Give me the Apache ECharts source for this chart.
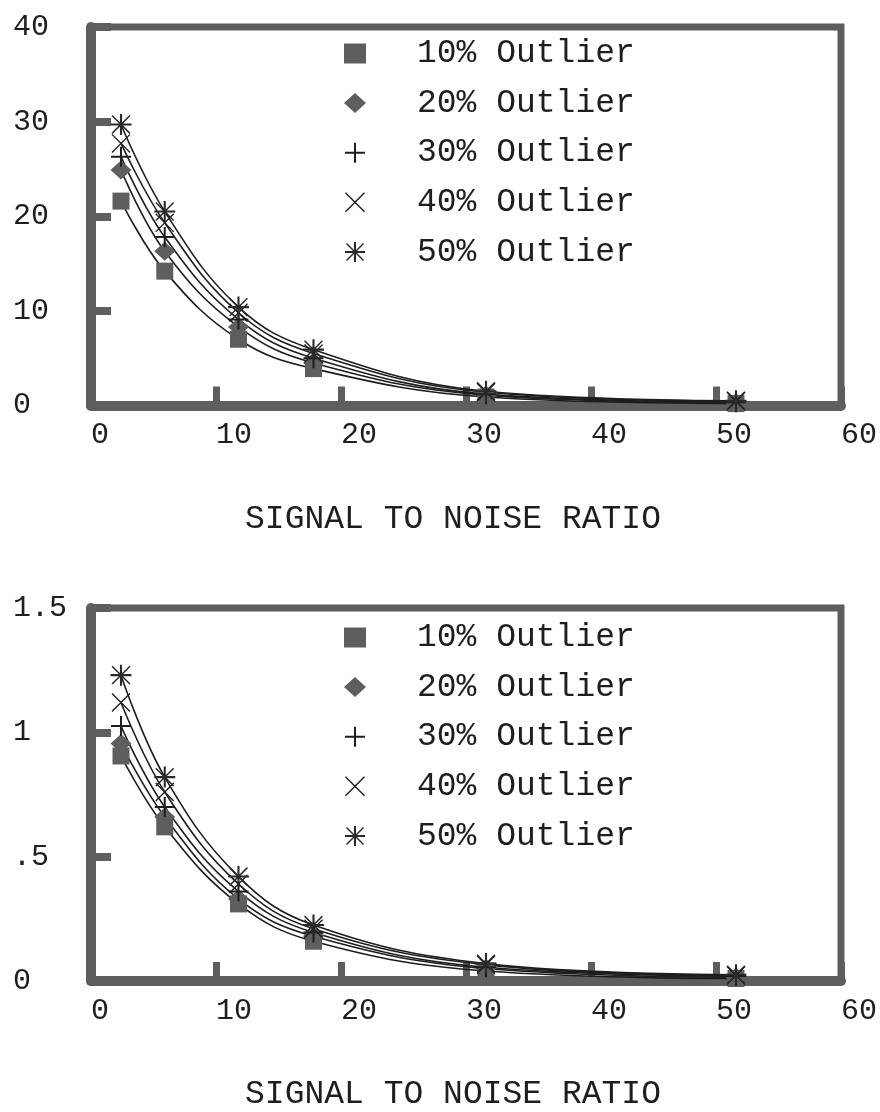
<!DOCTYPE html>
<html>
<head>
<meta charset="utf-8">
<script src="https://cdn.jsdelivr.net/npm/echarts@6/dist/echarts.min.js"></script>
<style>
  html, body { margin: 0; padding: 0; background: #fff; }
  #chart { width: 880px; height: 1112px; }
</style>
</head>
<body>
<div id="chart"></div>
<script>
// ---- data ----
const snr = [2.4, 5.9, 11.8, 17.8, 31.6, 51.6];
const seriesNames = ['10% Outlier', '20% Outlier', '30% Outlier', '40% Outlier', '50% Outlier'];

const top10 = [21.6, 14.2, 7.0, 3.9, 0.9, 0.2];
const top20 = [24.9, 16.3, 8.3, 4.5, 1.1, 0.3];
const top30 = [26.3, 17.8, 9.1, 5.0, 1.2, 0.35];
const top40 = [27.7, 19.3, 9.8, 5.5, 1.4, 0.45];
const top50 = [29.7, 20.5, 10.4, 5.9, 1.5, 0.5];

const bot10 = [0.905, 0.62, 0.31, 0.16, 0.04, 0.01];
const bot20 = [0.955, 0.66, 0.33, 0.18, 0.05, 0.015];
const bot30 = [1.025, 0.70, 0.36, 0.195, 0.055, 0.02];
const bot40 = [1.12, 0.76, 0.39, 0.21, 0.065, 0.022];
const bot50 = [1.23, 0.82, 0.42, 0.225, 0.07, 0.025];

const xTickValues = [0, 10, 20, 30, 40, 50, 60];
const xTickLabels = ['0', '10', '20', '30', '40', '50', '60'];
const yTopTickValues = [0, 10, 20, 30, 40];
const yTopTickLabels = ['0', '10', '20', '30', '40'];
const yBotTickValues = [0, 0.5, 1, 1.5];
const yBotTickLabels = ['0', '.5', '1', '1.5'];
const xAxisTitle = 'SIGNAL TO NOISE RATIO';

// ---- styles ----
const GRAY = '#5e5e5e';
const INK = '#1e1e1e';
const FONT = '"Liberation Mono", "DejaVu Sans Mono", monospace';

const PLUS = 'path://M9,0 H11 V20 H9 Z M0,9 H20 V11 H0 Z';
const CROSS = 'path://M0,1 L1,0 L20,19 L19,20 Z M19,0 L20,1 L1,20 L0,19 Z';
const STAR = 'path://M9,0 H11 V20 H9 Z M0,9 H20 V11 H0 Z M1,2 L2,1 L19,18 L18,19 Z M18,1 L19,2 L2,19 L1,18 Z';

const symbols = ['rect', 'diamond', PLUS, CROSS, STAR];
const symbolSizes = [17, [21, 19], 20, 19, 21];
const symbolColors = [GRAY, GRAY, INK, INK, '#2a2a2a'];

function labelFor(values, labels) {
  return function (v) {
    for (let i = 0; i < values.length; i++) {
      if (Math.abs(values[i] - v) < 1e-9) return labels[i];
    }
    return '';
  };
}

function makeSeries(gridIdx, arrays) {
  return arrays.map((arr, k) => ({
    name: seriesNames[k],
    type: 'line',
    xAxisIndex: gridIdx,
    yAxisIndex: gridIdx,
    data: snr.map((x, i) => [x, arr[i]]),
    smooth: 0.4,
    symbol: symbols[k],
    symbolSize: symbolSizes[k],
    showAllSymbol: true,
    itemStyle: { color: symbolColors[k] },
    lineStyle: { color: INK, width: 1.6 },
    emphasis: { disabled: true },
    z: 3
  }));
}

function makeXAxis(gridIdx) {
  return {
    gridIndex: gridIdx,
    type: 'value',
    min: 0, max: 60, interval: 10,
    axisLine: { show: true, onZero: false, lineStyle: { color: GRAY, width: 10 } },
    axisTick: { show: true, inside: true, length: 19, lineStyle: { color: GRAY, width: 7 } },
    splitLine: { show: false },
    axisLabel: {
      show: true, margin: 15, align: 'left',
      fontFamily: FONT, fontSize: 30, color: INK,
      formatter: labelFor(xTickValues, xTickLabels)
    },
    name: xAxisTitle,
    nameLocation: 'middle',
    nameGap: 97,
    nameTextStyle: { fontFamily: FONT, fontSize: 33, color: INK, padding: [0, 26, 0, 0] }
  };
}

function makeYAxis(gridIdx, max, interval, values, labels) {
  return {
    gridIndex: gridIdx,
    type: 'value',
    min: 0, max: max, interval: interval,
    axisLine: { show: true, onZero: false, lineStyle: { color: GRAY, width: 10 } },
    axisTick: { show: true, inside: true, length: 20, lineStyle: { color: GRAY, width: 8 } },
    splitLine: { show: false },
    axisLabel: {
      show: true, margin: 78, align: 'left',
      fontFamily: FONT, fontSize: 30, color: INK,
      padding: [0, 0, 8, 0],
      formatter: labelFor(values, labels)
    }
  };
}

function makeLegend(top) {
  return {
    orient: 'vertical',
    left: 339,
    top: top,
    itemWidth: 22,
    itemHeight: 20,
    itemGap: 16.6,
    selectedMode: false,
    textStyle: { fontFamily: FONT, fontSize: 33, lineHeight: 33, color: INK, padding: [0, 0, 0, 46] },
    data: seriesNames.map((n, k) => ({ name: n, icon: symbols[k] }))
  };
}

const chart = echarts.init(document.getElementById('chart'), null, { renderer: 'canvas' });
chart.setOption({
  animation: false,
  backgroundColor: '#ffffff',
  grid: [
    { left: 91, right: 36, top: 27, height: 378.5, show: true, borderColor: GRAY, borderWidth: 7, backgroundColor: 'transparent' },
    { left: 91, right: 36, top: 608, height: 376, show: true, borderColor: GRAY, borderWidth: 7, backgroundColor: 'transparent' }
  ],
  xAxis: [makeXAxis(0), makeXAxis(1)],
  yAxis: [
    makeYAxis(0, 40, 10, yTopTickValues, yTopTickLabels),
    makeYAxis(1, 1.5, 0.5, yBotTickValues, yBotTickLabels)
  ],
  legend: [makeLegend(32), makeLegend(616)],
  series: makeSeries(0, [top10, top20, top30, top40, top50])
    .concat(makeSeries(1, [bot10, bot20, bot30, bot40, bot50]))
});
</script>
</body>
</html>
